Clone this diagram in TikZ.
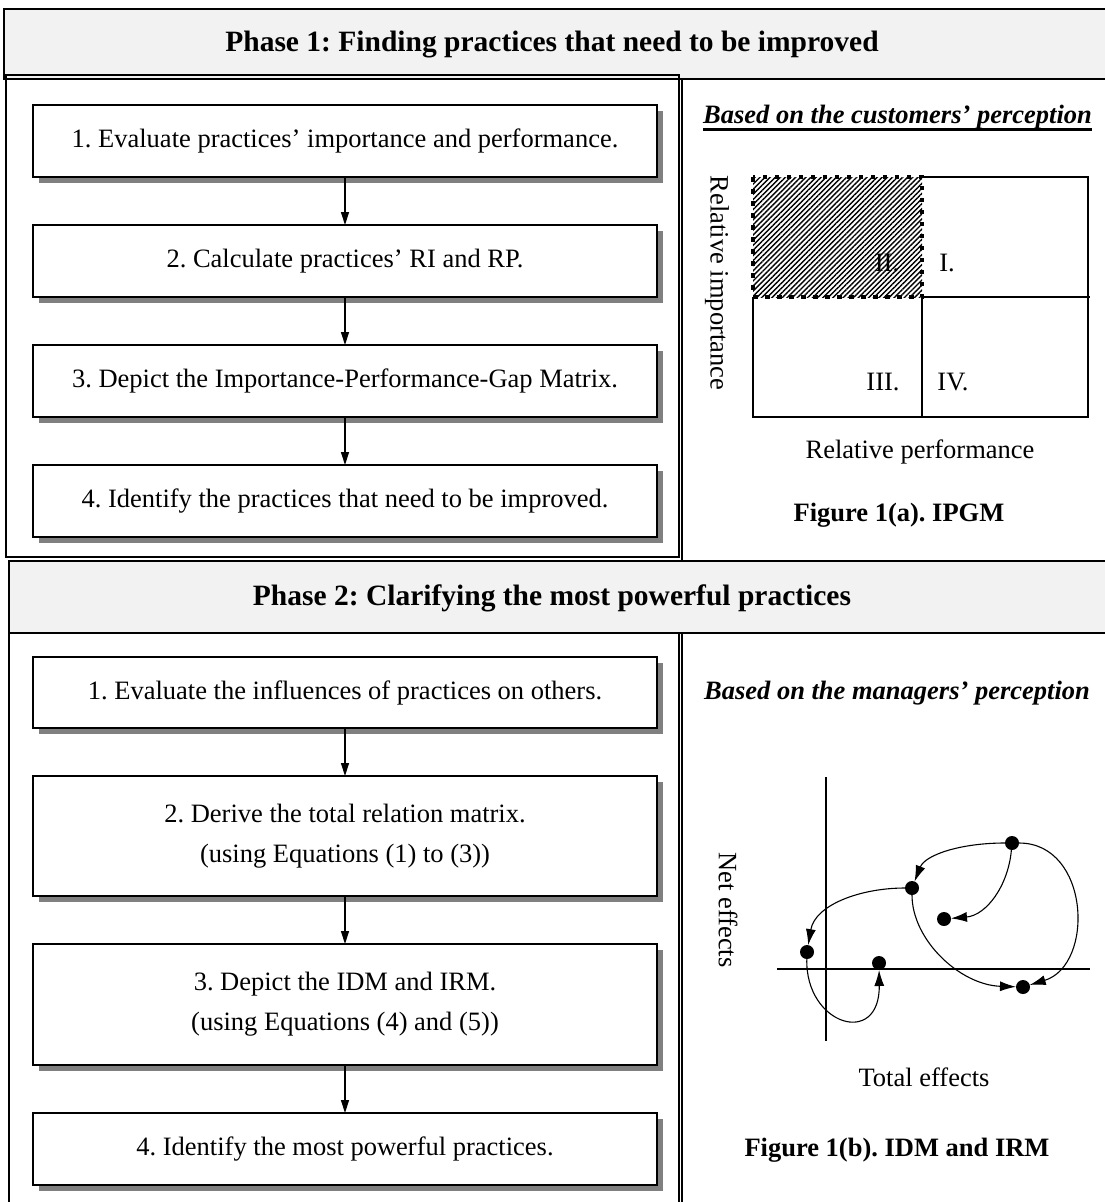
\documentclass[tikz,border=0pt]{standalone}
\usepackage{fontspec}
\setmainfont{Liberation Serif}
\usetikzlibrary{arrows.meta,shadows,patterns.meta}
\definecolor{hdrgray}{HTML}{F2F2F2}
\definecolor{shadowgray}{HTML}{808080}
\newcommand\bodyfont{\fontsize{26.5}{40}\selectfont}
\newcommand\hdrfont{\fontsize{29.5}{36}\selectfont\bfseries}
\frenchspacing
\begin{document}
\frenchspacing
\begin{tikzpicture}[x=1pt,y=-1pt,
  every node/.style={inner sep=0pt, outer sep=0pt},
  stepbox/.style={draw, line width=1.5pt, fill=white, minimum width=624pt,
    minimum height=72pt, align=center, font=\bodyfont,
    drop shadow={shadow xshift=6pt, shadow yshift=-6pt, fill=shadowgray, opacity=1}},
  hdr/.style={draw, line width=1.5pt, fill=hdrgray},
  panel/.style={draw, line width=1.3pt},
  flow/.style={line width=1.3pt, -{Triangle[length=13pt,width=8pt]}},
  mline/.style={line width=1.3pt},
  lbl/.style={font=\bodyfont},
  figcap/.style={font=\bodyfont\bfseries},
  persp/.style={font=\bodyfont\bfseries\itshape},
  dotnode/.style={circle, fill=black, minimum size=14pt},
  curve/.style={line width=1.1pt, -{Latex[length=16pt,width=10pt]}}]
\useasboundingbox (0,0) rectangle (1104,1202);

% ---------- Phase 1 ----------
\draw[hdr] (4,9) rectangle (1112,79);
\node[font=\hdrfont] (h1) at (552,45) {Phase 1: Finding practices that need to be improved};
\draw[panel] (6,75) rectangle (679,557);
\draw[panel] (682,79) -- (682,561);

\node[stepbox] (a1) at (345,141) {1. Evaluate practices’ importance and performance.};
\node[stepbox] (a2) at (345,261) {2. Calculate practices’ RI and RP.};
\node[stepbox] (a3) at (345,381) {3. Depict the Importance-Performance-Gap Matrix.};
\node[stepbox] (a4) at (345,501) {4. Identify the practices that need to be improved.};
\draw[flow] (a1.south) -- (a2.north);
\draw[flow] (a2.south) -- (a3.north);
\draw[flow] (a3.south) -- (a4.north);

\node[persp] (pc) at (897.5,117) {Based on the customers’ perception};
\draw[line width=2.6pt] ([yshift=-6pt]pc.base west) -- ([yshift=-6pt]pc.base east);

\fill[pattern={Lines[angle=45,distance=3.6pt,line width=1.4pt]}] (753,177) rectangle (922,297);
\draw[mline] (922,177) -- (1088,177) -- (1088,417) -- (753,417) -- (753,297);
\draw[mline] (922,297) -- (922,417);
\draw[mline] (922,297) -- (1090,297);
\draw[line width=4.5pt, dash pattern=on 4.5pt off 7.5pt] (753,177) rectangle (922,297);
\node[lbl] (q2) at (887,263) {II.};
\node[lbl] (q1) at (947,263) {I.};
\node[lbl] (q3) at (883,382) {III.};
\node[lbl] (q4) at (953,382) {IV.};
\node[lbl, rotate=-90] (ri) at (717,283) {Relative importance};
\node[lbl] (rp) at (920,452) {Relative performance};
\node[figcap] (f1a) at (899,515) {Figure 1(a). IPGM};

% ---------- Phase 2 ----------
\draw[hdr] (9,561) rectangle (1112,633);
\node[font=\hdrfont] (h2) at (552,598) {Phase 2: Clarifying the most powerful practices};
\draw[panel] (9,633) -- (9,1210);
\draw[panel] (679,633) -- (679,1210);
\draw[panel] (682,633) -- (682,1210);

\node[stepbox, minimum height=71pt] (b1) at (345,692.5) {1. Evaluate the influences of practices on others.};
\node[stepbox, minimum height=120pt] (b2) at (345,836) {2. Derive the total relation matrix.\\(using Equations (1) to (3))};
\node[stepbox, minimum height=121pt] (b3) at (345,1004.5) {3. Depict the IDM and IRM.\\(using Equations (4) and (5))};
\node[stepbox] (b4) at (345,1149) {4. Identify the most powerful practices.};
\draw[flow] (b1.south) -- (b2.north);
\draw[flow] (b2.south) -- (b3.north);
\draw[flow] (b3.south) -- (b4.north);

\node[persp] (pm) at (897,693) {Based on the managers’ perception};

\draw[mline] (826,777) -- (826,1041);
\draw[mline] (777,969) -- (1090,969);
\node[dotnode] (A) at (1012,843) {};
\node[dotnode] (B) at (912,888) {};
\node[dotnode] (C) at (944,919) {};
\node[dotnode] (D) at (807,952) {};
\node[dotnode] (E) at (879,963) {};
\node[dotnode] (F) at (1023,987) {};
\draw[curve] (A) .. controls (960,843) and (925,855) .. (B);
\draw[curve] (A) to[out=-95,in=5] (C);
\draw[curve] (A) .. controls (1090,843) and (1095,965) .. (F);
\draw[curve] (B) .. controls (912,940) and (960,985) .. (F);
\draw[curve] (B) .. controls (860,888) and (815,905) .. (D);
\draw[curve] (D) .. controls (805,1025) and (880,1048) .. (E);
\node[lbl, rotate=-90] (ne) at (728,910) {Net effects};
\node[lbl] (te) at (924,1077) {Total effects};
\node[figcap] (f1b) at (897,1150) {Figure 1(b). IDM and IRM};
\end{tikzpicture}
\end{document}
